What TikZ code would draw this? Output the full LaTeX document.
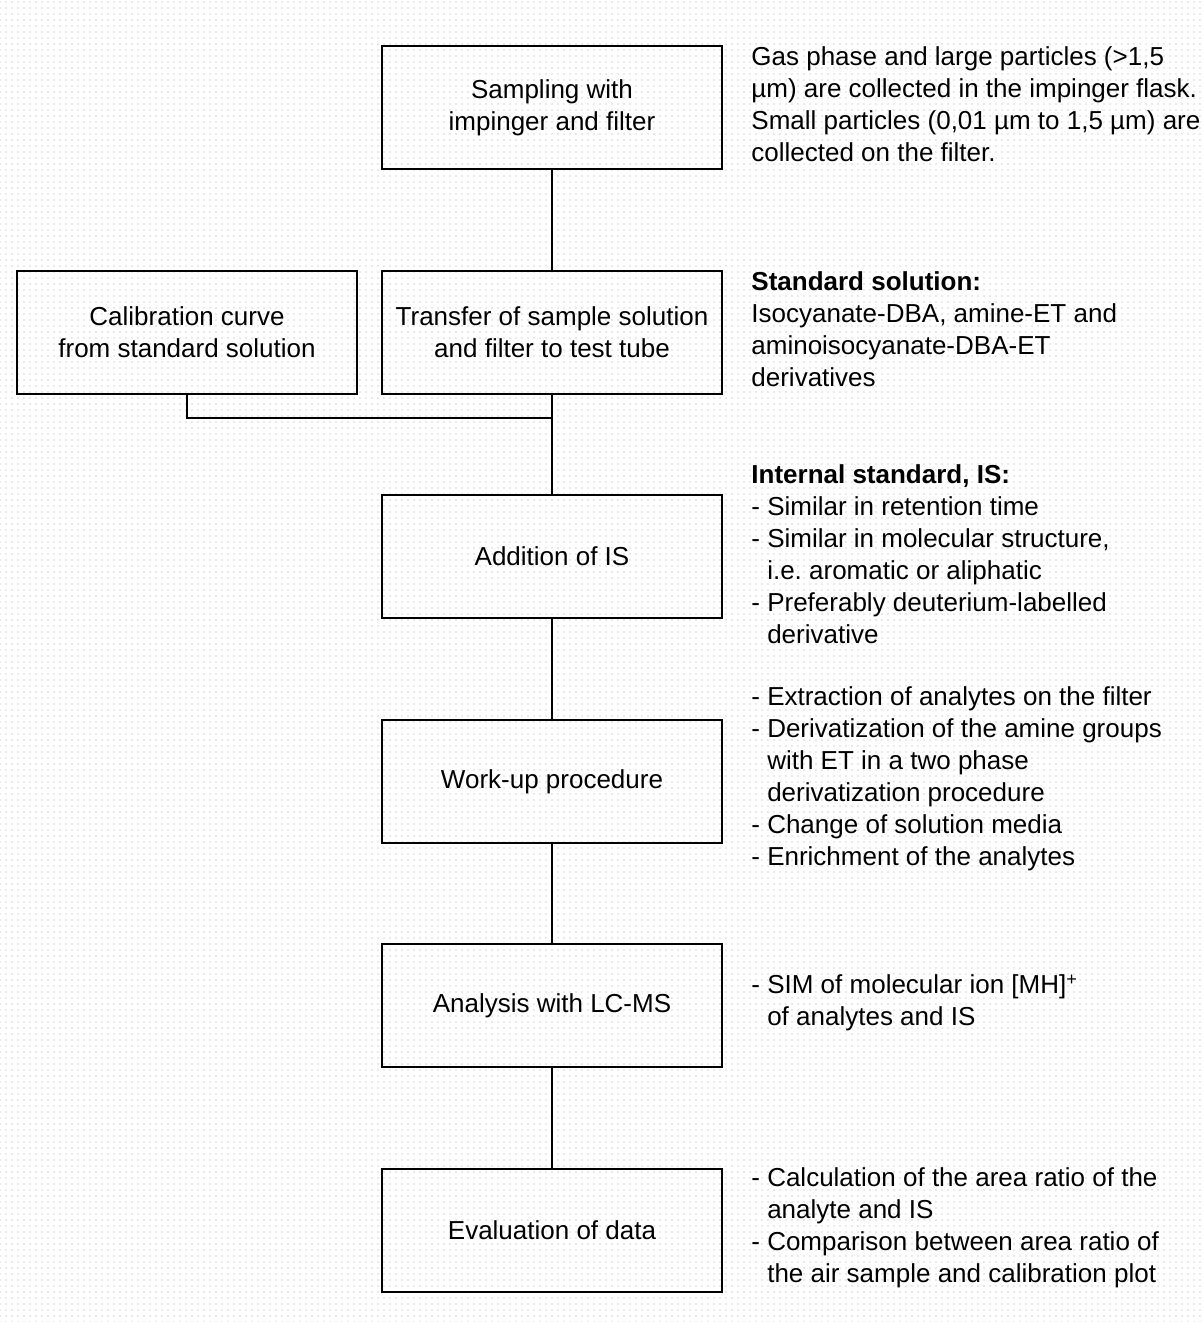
\documentclass[tikz,border=0pt]{standalone}
\usepackage{fontspec}
\setmainfont{Liberation Sans}
\usepackage{xcolor}
\usetikzlibrary{positioning}
\usetikzlibrary{patterns.meta}

\tikzset{
	stepbox/.style={draw, line width=1pt, minimum width=170pt, minimum height=61.5pt, inner sep=0pt, align=center},
	note/.style={anchor=west, inner sep=0pt, align=left, yshift=1.5pt},
	link/.style={line width=1pt}
}

\begin{document}
\begin{tikzpicture}[x=0.5pt, y=-0.5pt, node distance=49.8pt and 11.5pt, font=\fontsize{13pt}{16pt}\selectfont]
	
	% dotted paper
	\fill[pattern={Dots[distance=3pt, radius=0.35pt]}, pattern color=gray!70] (0,0) rectangle (1204,1322);
	\useasboundingbox (0,0) rectangle (1204,1322);
	
	\node[stepbox] (sampling) at (552,107.5) {Sampling with\\impinger and filter};
	\node[stepbox, below = of sampling] (transfer) {Transfer of sample solution\\and filter to test tube};
	\node[stepbox, left = of transfer] (calib) {Calibration curve\\from standard solution};
	\node[stepbox, below = of transfer] (addis) {Addition of IS};
	\node[stepbox, below = of addis] (workup) {Work-up procedure};
	\node[stepbox, below = of workup] (lcms) {Analysis with LC-MS};
	\node[stepbox, below = of lcms] (evaluation) {Evaluation of data};
	
	\node[note, right = 14pt of sampling] (gasnote) {Gas phase and large particles (>1,5\\µm) are collected in the impinger flask.\\Small particles (0,01 µm to 1,5 µm) are\\collected on the filter.};
	\node[note, right = 14pt of transfer] (stdnote) {\textbf{Standard solution:}\\Isocyanate-DBA, amine-ET and\\aminoisocyanate-DBA-ET\\derivatives};
	\node[note, right = 14pt of addis] (isnote) {\textbf{Internal standard, IS:}\\- Similar in retention time\\- Similar in molecular structure,\\\phantom{- }i.e.\ aromatic or aliphatic\\- Preferably deuterium-labelled\\\phantom{- }derivative};
	\node[note, right = 14pt of workup] (worknote) {- Extraction of analytes on the filter\\- Derivatization of the amine groups\\\phantom{- }with ET in a two phase\\\phantom{- }derivatization procedure\\- Change of solution media\\- Enrichment of the analytes};
	\node[note, right = 14pt of lcms] (msnote) {- SIM of molecular ion [MH]\textsuperscript{+}\\\phantom{- }of analytes and IS};
	\node[note, right = 14pt of evaluation] (evalnote) {- Calculation of the area ratio of the\\\phantom{- }analyte and IS\\- Comparison between area ratio of\\\phantom{- }the air sample and calibration plot};
	
	\coordinate[below = 11.5pt of transfer.south] (join);
	
	\draw[link] (sampling) -- (transfer);
	\draw[link] (calib) |- (join);
	\draw[link] (transfer) -- (addis);
	\draw[link] (addis) -- (workup);
	\draw[link] (workup) -- (lcms);
	\draw[link] (lcms) -- (evaluation);
	
\end{tikzpicture}
\end{document}
